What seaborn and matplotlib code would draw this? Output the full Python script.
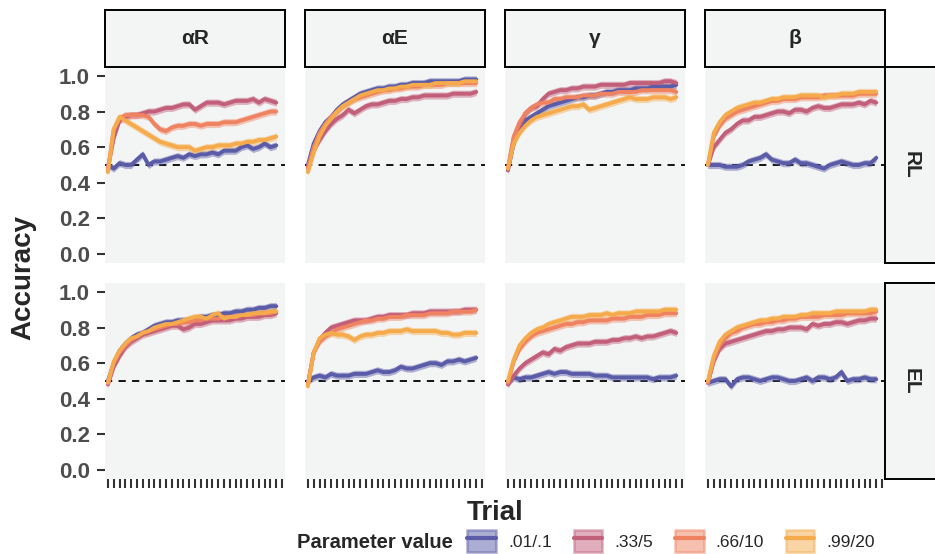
# Accuracy over trials per parameter, RL vs EL learners
import pandas as pd
import matplotlib
matplotlib.use('Agg')
from matplotlib import pyplot as plt
from matplotlib.patches import Patch
from matplotlib.lines import Line2D
import seaborn as sns

trials = list(range(1, 31))
params = ['.01/.1', '.33/5', '.66/10', '.99/20']
colors = ['#5b5ca7', '#c25f7a', '#ef8361', '#f5ab4b']
facet_cols = ['αR', 'αE', 'γ', 'β']
facet_rows = ['RL', 'EL']
band = 0.02  # half width of the shaded ribbon

# one list per parameter value, in the order of params
rl_alphaR = [
    [0.50,0.48,0.51,0.50,0.50,0.53,0.56,0.50,0.52,0.52,0.53,0.54,0.55,0.54,0.56,0.55,0.56,0.56,0.57,0.56,0.58,0.58,0.58,0.60,0.61,0.59,0.60,0.62,0.60,0.61],
    [0.48,0.65,0.75,0.77,0.78,0.78,0.79,0.80,0.80,0.81,0.82,0.82,0.83,0.84,0.84,0.81,0.83,0.85,0.85,0.85,0.84,0.85,0.86,0.86,0.86,0.87,0.85,0.87,0.86,0.85],
    [0.47,0.70,0.76,0.78,0.78,0.78,0.78,0.77,0.73,0.70,0.69,0.71,0.72,0.72,0.73,0.73,0.72,0.73,0.73,0.73,0.74,0.74,0.74,0.75,0.76,0.77,0.78,0.79,0.80,0.80],
    [0.46,0.70,0.77,0.75,0.73,0.71,0.69,0.67,0.65,0.63,0.62,0.61,0.60,0.60,0.60,0.58,0.59,0.60,0.60,0.61,0.61,0.61,0.62,0.62,0.63,0.63,0.64,0.64,0.65,0.66],
]
rl_alphaE = [
    [0.50,0.62,0.69,0.74,0.77,0.81,0.84,0.86,0.88,0.90,0.91,0.92,0.93,0.93,0.94,0.94,0.95,0.95,0.96,0.96,0.96,0.97,0.97,0.97,0.97,0.97,0.97,0.98,0.98,0.98],
    [0.49,0.58,0.64,0.69,0.73,0.76,0.78,0.81,0.79,0.81,0.83,0.84,0.84,0.85,0.86,0.86,0.87,0.87,0.88,0.88,0.89,0.89,0.89,0.89,0.89,0.90,0.90,0.90,0.90,0.91],
    [0.48,0.60,0.68,0.73,0.77,0.80,0.83,0.85,0.87,0.88,0.89,0.90,0.91,0.92,0.92,0.93,0.93,0.94,0.94,0.94,0.95,0.95,0.95,0.95,0.96,0.96,0.96,0.96,0.96,0.96],
    [0.46,0.57,0.66,0.72,0.76,0.80,0.83,0.85,0.87,0.89,0.90,0.91,0.92,0.92,0.93,0.93,0.94,0.94,0.95,0.95,0.95,0.95,0.96,0.96,0.96,0.96,0.96,0.97,0.97,0.97],
]
rl_gamma = [
    [0.47,0.62,0.70,0.75,0.77,0.79,0.81,0.83,0.84,0.85,0.86,0.87,0.88,0.88,0.89,0.89,0.90,0.91,0.91,0.92,0.92,0.92,0.93,0.93,0.93,0.94,0.94,0.94,0.94,0.95],
    [0.47,0.65,0.72,0.79,0.82,0.83,0.87,0.90,0.91,0.92,0.92,0.93,0.93,0.94,0.94,0.94,0.95,0.95,0.95,0.95,0.95,0.96,0.96,0.96,0.96,0.96,0.96,0.97,0.97,0.96],
    [0.48,0.66,0.74,0.79,0.82,0.84,0.85,0.85,0.87,0.87,0.88,0.88,0.88,0.89,0.89,0.89,0.90,0.90,0.90,0.91,0.91,0.91,0.91,0.92,0.92,0.92,0.92,0.92,0.92,0.91],
    [0.48,0.62,0.68,0.72,0.75,0.77,0.78,0.79,0.80,0.81,0.82,0.83,0.83,0.84,0.81,0.82,0.83,0.84,0.85,0.86,0.87,0.88,0.87,0.87,0.87,0.88,0.88,0.88,0.87,0.88],
]
rl_beta = [
    [0.50,0.50,0.50,0.49,0.49,0.49,0.50,0.52,0.53,0.54,0.56,0.53,0.52,0.51,0.51,0.53,0.51,0.51,0.50,0.49,0.48,0.50,0.51,0.52,0.51,0.50,0.50,0.51,0.51,0.54],
    [0.50,0.60,0.64,0.68,0.70,0.73,0.75,0.75,0.77,0.77,0.78,0.79,0.80,0.80,0.79,0.81,0.81,0.80,0.82,0.83,0.82,0.82,0.83,0.84,0.84,0.84,0.85,0.84,0.86,0.85],
    [0.50,0.66,0.72,0.76,0.78,0.80,0.81,0.82,0.83,0.84,0.85,0.86,0.86,0.87,0.87,0.87,0.88,0.88,0.88,0.88,0.89,0.89,0.89,0.89,0.89,0.89,0.90,0.90,0.90,0.90],
    [0.50,0.68,0.74,0.78,0.80,0.82,0.83,0.84,0.85,0.85,0.86,0.87,0.87,0.88,0.88,0.88,0.89,0.89,0.89,0.89,0.88,0.89,0.89,0.90,0.90,0.90,0.91,0.91,0.91,0.91],
]
el_alphaR = [
    [0.50,0.60,0.67,0.71,0.74,0.76,0.77,0.79,0.81,0.82,0.83,0.83,0.84,0.84,0.84,0.85,0.86,0.86,0.87,0.87,0.88,0.88,0.89,0.89,0.90,0.90,0.91,0.91,0.92,0.92],
    [0.48,0.58,0.64,0.69,0.72,0.74,0.76,0.77,0.78,0.79,0.80,0.81,0.81,0.79,0.80,0.82,0.82,0.83,0.84,0.84,0.84,0.84,0.85,0.85,0.86,0.86,0.86,0.87,0.87,0.88],
    [0.49,0.60,0.66,0.70,0.73,0.75,0.77,0.78,0.79,0.80,0.81,0.82,0.82,0.83,0.83,0.84,0.84,0.85,0.85,0.85,0.86,0.86,0.86,0.87,0.87,0.87,0.88,0.88,0.88,0.89],
    [0.49,0.61,0.67,0.71,0.74,0.75,0.77,0.78,0.80,0.81,0.82,0.82,0.83,0.84,0.85,0.86,0.86,0.85,0.87,0.88,0.85,0.86,0.86,0.87,0.87,0.88,0.88,0.88,0.89,0.89],
]
el_alphaE = [
    [0.50,0.52,0.53,0.52,0.54,0.53,0.53,0.53,0.54,0.54,0.54,0.55,0.56,0.55,0.55,0.56,0.58,0.57,0.57,0.58,0.59,0.60,0.60,0.59,0.61,0.61,0.62,0.61,0.62,0.63],
    [0.48,0.66,0.73,0.77,0.80,0.81,0.82,0.83,0.84,0.84,0.84,0.85,0.86,0.86,0.87,0.87,0.87,0.87,0.88,0.88,0.88,0.89,0.89,0.89,0.89,0.89,0.89,0.90,0.90,0.90],
    [0.48,0.66,0.72,0.75,0.77,0.79,0.80,0.81,0.82,0.83,0.84,0.84,0.85,0.85,0.86,0.86,0.86,0.87,0.87,0.87,0.87,0.88,0.88,0.88,0.88,0.89,0.89,0.89,0.89,0.90],
    [0.47,0.66,0.74,0.76,0.77,0.76,0.76,0.75,0.73,0.75,0.76,0.76,0.77,0.77,0.78,0.78,0.78,0.79,0.78,0.78,0.78,0.78,0.78,0.77,0.77,0.76,0.76,0.77,0.77,0.77],
]
el_gamma = [
    [0.49,0.52,0.51,0.52,0.52,0.53,0.54,0.55,0.54,0.55,0.55,0.54,0.54,0.54,0.54,0.53,0.53,0.53,0.52,0.52,0.52,0.52,0.52,0.52,0.52,0.51,0.52,0.52,0.52,0.53],
    [0.48,0.53,0.57,0.60,0.62,0.64,0.66,0.65,0.68,0.67,0.69,0.70,0.71,0.71,0.71,0.72,0.72,0.72,0.73,0.73,0.74,0.74,0.75,0.74,0.75,0.75,0.76,0.77,0.78,0.77],
    [0.49,0.61,0.68,0.72,0.75,0.77,0.78,0.79,0.80,0.81,0.82,0.82,0.83,0.83,0.84,0.84,0.84,0.84,0.85,0.85,0.85,0.86,0.86,0.86,0.87,0.87,0.87,0.88,0.88,0.88],
    [0.50,0.62,0.70,0.74,0.77,0.79,0.80,0.82,0.83,0.84,0.85,0.86,0.86,0.86,0.87,0.87,0.87,0.88,0.87,0.88,0.88,0.88,0.89,0.89,0.89,0.89,0.89,0.90,0.90,0.90],
]
el_beta = [
    [0.49,0.50,0.51,0.51,0.47,0.51,0.52,0.52,0.51,0.50,0.51,0.52,0.52,0.51,0.50,0.50,0.51,0.52,0.50,0.52,0.52,0.51,0.52,0.55,0.50,0.51,0.51,0.52,0.51,0.51],
    [0.49,0.61,0.68,0.71,0.72,0.73,0.74,0.75,0.76,0.77,0.78,0.78,0.79,0.79,0.80,0.80,0.80,0.79,0.82,0.81,0.82,0.82,0.83,0.83,0.82,0.83,0.84,0.84,0.85,0.85],
    [0.49,0.62,0.70,0.74,0.77,0.78,0.80,0.81,0.82,0.82,0.83,0.83,0.84,0.84,0.85,0.85,0.86,0.86,0.86,0.86,0.87,0.87,0.87,0.87,0.88,0.88,0.88,0.88,0.88,0.89],
    [0.50,0.64,0.72,0.76,0.78,0.80,0.81,0.82,0.83,0.84,0.84,0.85,0.85,0.86,0.86,0.86,0.87,0.87,0.88,0.88,0.88,0.88,0.89,0.89,0.89,0.89,0.89,0.89,0.90,0.90],
]

panels = {
    ('RL', 'αR'): rl_alphaR, ('RL', 'αE'): rl_alphaE, ('RL', 'γ'): rl_gamma, ('RL', 'β'): rl_beta,
    ('EL', 'αR'): el_alphaR, ('EL', 'αE'): el_alphaE, ('EL', 'γ'): el_gamma, ('EL', 'β'): el_beta,
}

# long format table
records = []
for (learner, par), series in panels.items():
    for p, vals in zip(params, series):
        for t, v in zip(trials, vals):
            records.append({'learner': learner, 'parameter': par, 'param': p, 'trial': t, 'acc': v})
df = pd.DataFrame(records)

sns.set_style('white')
plt.rcParams['font.family'] = ['Liberation Sans', 'DejaVu Sans']

W, H = 935, 554
def px(left, top, w, h):
    return [left / W, 1 - (top + h) / H, w / W, h / H]

fig = plt.figure(figsize=(W / 100, H / 100), dpi=100)
panel_bg = '#f3f4f4'
tick_col = '#333333'
palette = dict(zip(params, colors))

for r, learner in enumerate(facet_rows):
    top = 67 + r * 216
    for c, par in enumerate(facet_cols):
        left = 105 + c * 200
        ax = fig.add_axes(px(left, top, 180, 196))
        ax.set_facecolor(panel_bg)
        sub = df[(df['learner'] == learner) & (df['parameter'] == par)]
        ax.axhline(0.5, color='black', lw=1.3, ls=(0, (4, 3.5)), zorder=1)
        for p in params:
            d = sub[sub['param'] == p]
            ax.fill_between(d['trial'], d['acc'] - band, d['acc'] + band,
                            color=palette[p], alpha=0.45, lw=0, zorder=2)
        sns.lineplot(data=sub, x='trial', y='acc', hue='param', hue_order=params,
                     palette=palette, linewidth=2.8, legend=False, ax=ax, zorder=3)
        ax.set_xlim(0.5, 31.5)
        ax.set_ylim(-0.05, 1.05)
        ax.set_xticks(range(1, 32))
        ax.set_xticklabels([])
        ax.set_yticks([0, 0.2, 0.4, 0.6, 0.8, 1.0])
        if c == 0:
            ax.set_yticklabels(['0.0', '0.2', '0.4', '0.6', '0.8', '1.0'],
                               fontsize=16, fontweight='bold', color='#4d4d4d')
        else:
            ax.set_yticklabels([])
        ax.tick_params(axis='y', left=(c == 0), length=6, width=1.5, color=tick_col, pad=5)
        ax.tick_params(axis='x', bottom=(r == 1), length=6.5, width=1.5, color=tick_col)
        ax.set_xlabel(None)
        ax.set_ylabel(None)
        for s in ax.spines.values():
            s.set_visible(False)

        # top strips
        if r == 0:
            sa = fig.add_axes(px(left, 10, 180, 57))
            sa.set_facecolor(panel_bg)
            sa.set_xticks([])
            sa.set_yticks([])
            for s in sa.spines.values():
                s.set_linewidth(1.4)
                s.set_color('black')
            sa.text(0.5, 0.5, par, ha='center', va='center', fontsize=15, fontweight='bold')

    # right strips
    ra = fig.add_axes(px(885, top, 52, 196))
    ra.set_facecolor(panel_bg)
    ra.set_xticks([])
    ra.set_yticks([])
    for s in ra.spines.values():
        s.set_linewidth(1.4)
        s.set_color('black')
    ra.text(0.5, 0.5, learner, ha='center', va='center', rotation=-90,
            fontsize=15, fontweight='bold')

fig.text(23 / W, 1 - 278 / H, 'Accuracy', rotation=90, ha='center', va='center',
         fontsize=20, fontweight='bold')
fig.text(495 / W, 1 - 513 / H, 'Trial', ha='center', va='center',
         fontsize=20, fontweight='bold')

# legend
fig.text(297 / W, 1 - 543 / H, 'Parameter value', ha='left', va='center',
         fontsize=14.5, fontweight='bold')
handles = [(Patch(facecolor=col, edgecolor=col, alpha=0.5, lw=1.8),
            Line2D([], [], color=col, lw=3)) for col in colors]
fig.legend(handles, params, ncol=4, loc='center left',
           bbox_to_anchor=(464 / W, 1 - 541 / H), frameon=False, fontsize=12.5,
           handlelength=1.65, handleheight=1.65, handletextpad=0.7, columnspacing=1.25,
           borderpad=0.2, borderaxespad=0)

plt.savefig('out.png', dpi=100)
